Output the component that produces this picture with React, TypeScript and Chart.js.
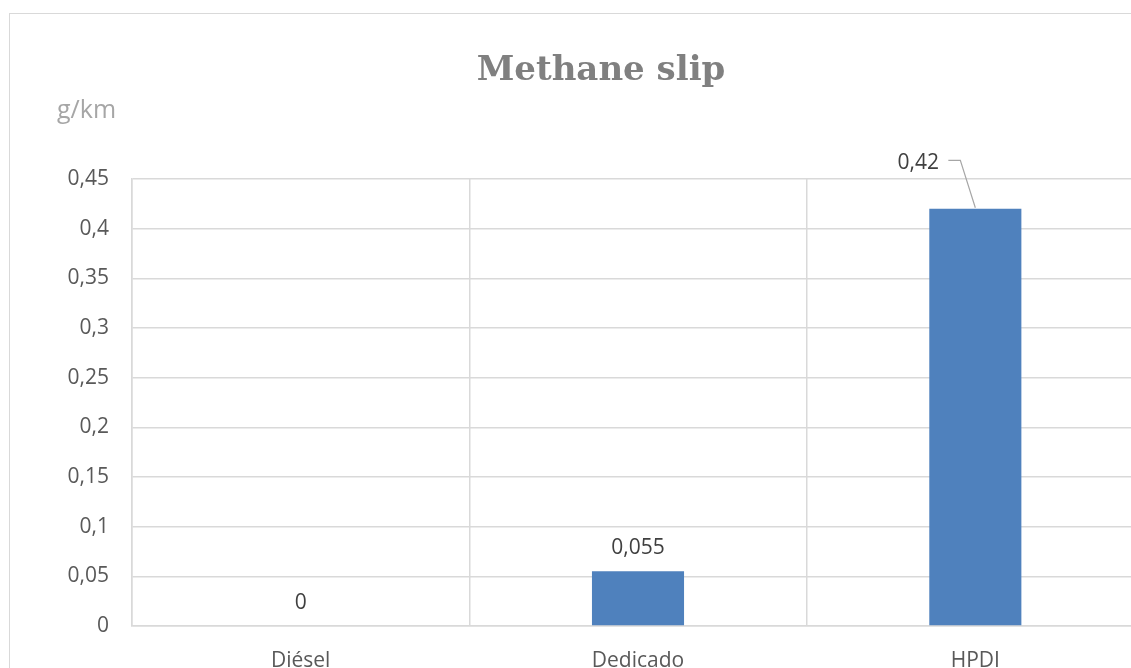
import React, { useEffect, useRef } from "react";
import { Chart, registerables } from "chart.js";

Chart.register(...registerables);

// Data
const categories = ["Diésel", "Dedicado", "HPDI"];
const methaneSlip = [0, 0.055, 0.42];
const yMin = 0;
const yMax = 0.45;
const yStep = 0.05;
const chartTitle = "Methane slip";
const unitLabel = "g/km";

const SANS = '"Open Sans", "Noto Sans", sans-serif';
const fmt = (v: number) => String(Math.round(v * 1000) / 1000).replace(".", ",");

// Draws the title, the unit caption and the value labels (with a callout for the last bar)
const annotations = {
  id: "annotations",
  afterDraw(chart: any) {
    const ctx = chart.ctx as CanvasRenderingContext2D;
    ctx.save();

    ctx.font = `bold 34px "DejaVu Serif", serif`;
    ctx.fillStyle = "#808080";
    ctx.textAlign = "center";
    ctx.textBaseline = "alphabetic";
    ctx.fillText(chartTitle, 601, 80);

    ctx.font = `25px ${SANS}`;
    ctx.fillStyle = "#a6a6a6";
    ctx.textAlign = "left";
    ctx.fillText(unitLabel, 57, 118);

    const meta = chart.getDatasetMeta(0);
    ctx.font = `21px ${SANS}`;
    ctx.fillStyle = "#404040";
    ctx.textAlign = "center";
    ctx.textBaseline = "middle";
    meta.data.forEach((bar: any, i: number) => {
      const { x, y } = bar.getProps(["x", "y"], true);
      const text = fmt(methaneSlip[i]);
      if (i === methaneSlip.length - 1) {
        ctx.fillText(text, x - 57, y - 46);
        ctx.strokeStyle = "#a6a6a6";
        ctx.lineWidth = 1.2;
        ctx.beginPath();
        ctx.moveTo(x - 27, y - 48.5);
        ctx.lineTo(x - 15, y - 48.5);
        ctx.lineTo(x, y - 1);
        ctx.stroke();
      } else {
        ctx.fillText(text, x, y - 23);
      }
    });
    ctx.restore();
  },
};

export default function App() {
  const canvasRef = useRef<HTMLCanvasElement | null>(null);

  useEffect(() => {
    const canvas = canvasRef.current;
    if (!canvas) return;
    const chart = new Chart(canvas, {
      type: "bar",
      data: {
        labels: categories,
        datasets: [
          {
            data: methaneSlip,
            backgroundColor: "#4f81bd",
            borderColor: "#6a93c6",
            borderWidth: 0,
            categoryPercentage: 1,
            barPercentage: 0.273,
          },
        ],
      },
      options: {
        responsive: false,
        animation: false,
        devicePixelRatio: 1,
        layout: { padding: { top: 179, left: 0, right: 16, bottom: 0 } },
        plugins: {
          legend: { display: false },
          title: { display: false },
          tooltip: { enabled: false },
        },
        scales: {
          x: {
            offset: true,
            grid: {
              offset: true,
              color: "#d9d9d9",
              lineWidth: 1.5,
              drawTicks: false,
            },
            border: { display: true, color: "#d9d9d9", width: 1.5 },
            ticks: {
              color: "#595959",
              font: { family: SANS, size: 21 },
              padding: 22,
              maxRotation: 0,
            },
            afterFit(scale: any) {
              scale.height = 42;
            },
          },
          y: {
            min: yMin,
            max: yMax,
            grid: { color: "#d9d9d9", lineWidth: 1.5, drawTicks: false },
            border: { display: true, color: "#d9d9d9", width: 1.5 },
            ticks: {
              stepSize: yStep,
              color: "#595959",
              font: { family: SANS, size: 21 },
              padding: 23,
              callback: (v: any) => fmt(Number(v)),
            },
            afterFit(scale: any) {
              scale.width = 132;
            },
          },
        },
      },
      plugins: [annotations],
    });
    return () => chart.destroy();
  }, []);

  return (
    <div
      style={{
        position: "fixed",
        left: 0,
        top: 0,
        width: 1131,
        height: 668,
        overflow: "hidden",
        background: "#ffffff",
      }}
    >
      <div
        style={{
          position: "absolute",
          left: 9,
          top: 13,
          width: 1300,
          height: 800,
          border: "1.5px solid #d9d9d9",
          boxSizing: "border-box",
        }}
      />
      <canvas
        ref={canvasRef}
        width={1160}
        height={668}
        style={{ position: "absolute", left: 0, top: 0, width: 1160, height: 668 }}
      />
    </div>
  );
}
